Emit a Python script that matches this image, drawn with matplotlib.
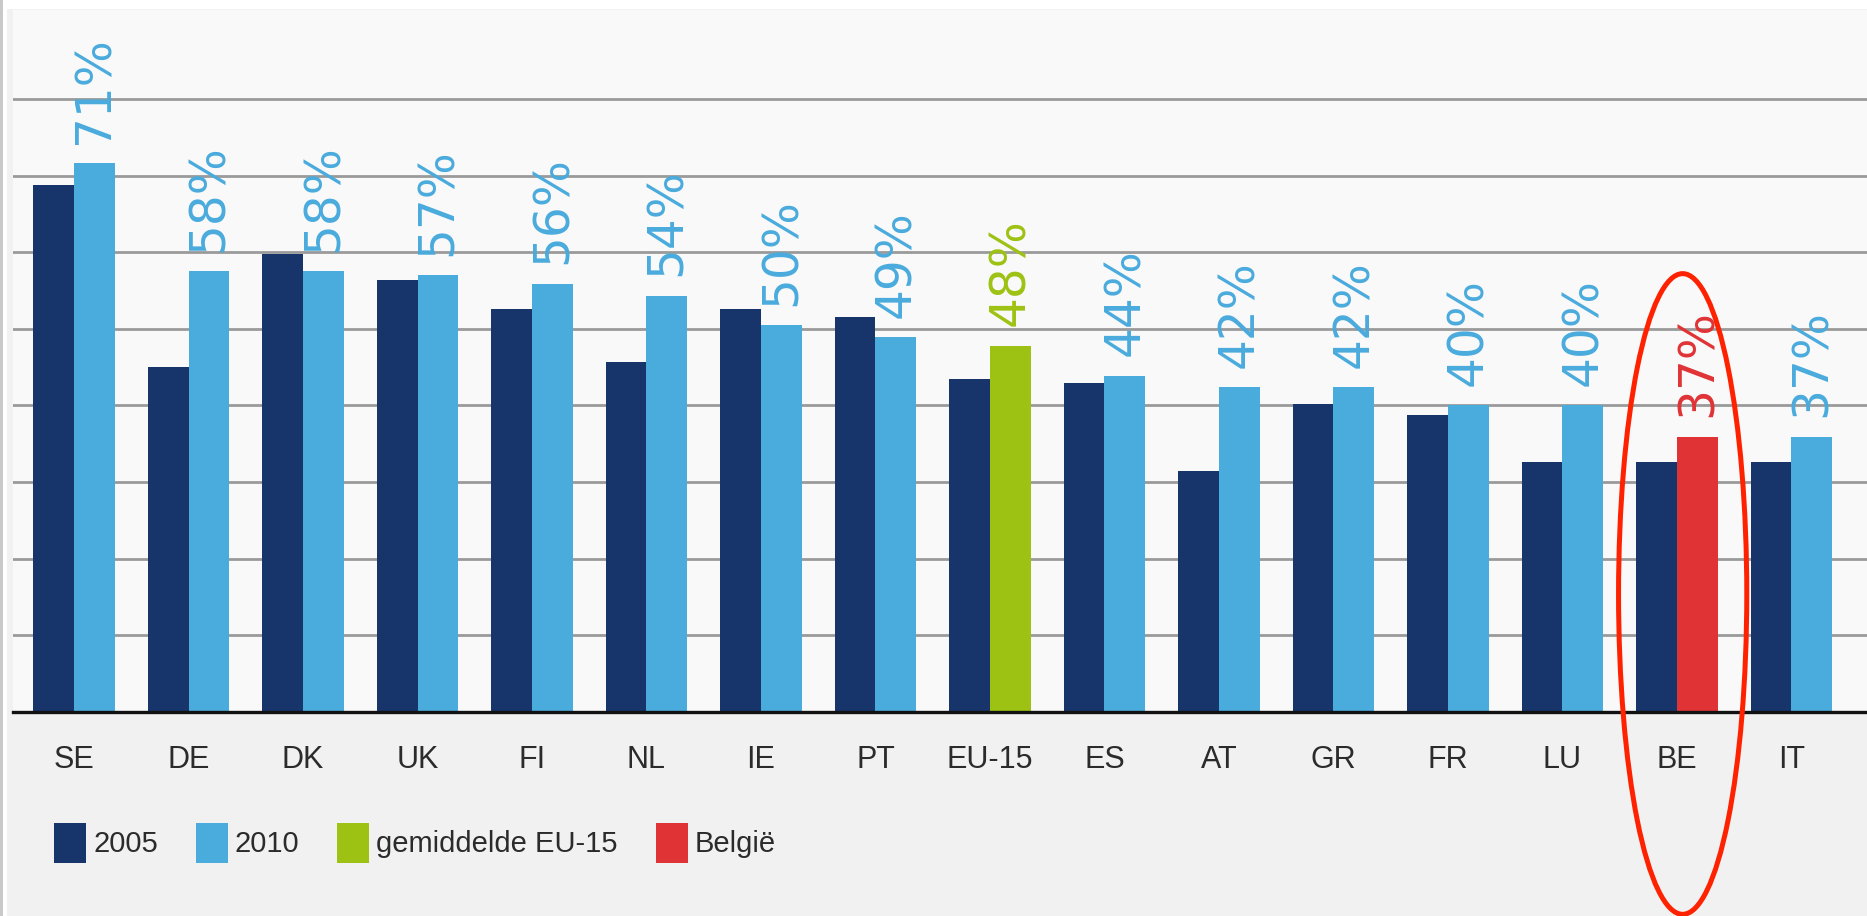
import matplotlib
matplotlib.use("Agg")
import matplotlib.pyplot as plt
from matplotlib import font_manager
from matplotlib.patches import Patch, Ellipse, Rectangle

# data
countries = ["SE", "DE", "DK", "UK", "FI", "NL", "IE", "PT", "EU-15",
             "ES", "AT", "GR", "FR", "LU", "BE", "IT"]
values_2005 = [68.8, 45.0, 59.8, 56.4, 52.6, 45.7, 52.6, 51.6, 43.5,
               42.9, 31.5, 40.2, 38.7, 32.6, 32.6, 32.6]
values_2010 = [71.6, 57.5, 57.5, 57.0, 55.9, 54.3, 50.5, 48.9, 47.8,
               43.9, 42.4, 42.4, 40.0, 40.0, 35.9, 35.9]
labels_2010 = [71, 58, 58, 57, 56, 54, 50, 49, 48, 44, 42, 42, 40, 40, 37, 37]
legend_labels = ["2005", "2010", "gemiddelde EU-15", "België"]

NAVY = "#17356b"
BLUE = "#4aabdd"
GREEN = "#9dc213"
RED = "#e03336"

names = {f.name for f in font_manager.fontManager.ttflist}
narrow = "Liberation Sans Narrow" if "Liberation Sans Narrow" in names else "Liberation Sans"

W, H = 1867, 916
fig = plt.figure(figsize=(W / 100, H / 100), dpi=100)
fig.patch.set_facecolor("#f1f1f1")

# white strip on top and grey border on the left
fig.patches.append(Rectangle((0, 1 - 9 / H), 1, 9 / H, transform=fig.transFigure,
                             facecolor="white", edgecolor="none", zorder=0))
fig.patches.append(Rectangle((0, 0), 3 / W, 1, transform=fig.transFigure,
                             facecolor="#c9c9c9", edgecolor="none", zorder=0))
fig.patches.append(Rectangle((3 / W, 0), 4 / W, 1, transform=fig.transFigure,
                             facecolor="white", edgecolor="none", zorder=0))

ax = fig.add_axes([13 / W, (H - 712) / H, (W - 13) / W, 702 / H])
ax.set_facecolor("#f9f9f9")

x = list(range(len(countries)))
bw = 0.355
colors_2010 = []
for c in countries:
    if c == "EU-15":
        colors_2010.append(GREEN)
    elif c == "BE":
        colors_2010.append(RED)
    else:
        colors_2010.append(BLUE)

ax.bar([i - bw / 2 for i in x], values_2005, width=bw, color=NAVY, zorder=3)
ax.bar([i + bw / 2 for i in x], values_2010, width=bw, color=colors_2010, zorder=3)

for i, v in enumerate(values_2010):
    ax.annotate(f"{labels_2010[i]}%", (i + bw / 2, v), xytext=(0, 14),
                textcoords="offset points", rotation=90, ha="center", va="bottom",
                fontsize=35, color=colors_2010[i], family="DejaVu Sans")

ax.set_xlim(-0.533, 15.66)
ax.set_ylim(0, 91.6)
ax.set_yticks(range(10, 90, 10))
ax.yaxis.grid(True, color="#9a9a9a", linewidth=2.0, zorder=1)
ax.set_axisbelow(True)
ax.tick_params(axis="y", left=False, labelleft=False)
ax.set_xticks(x)
ax.set_xticklabels(countries, family=narrow, fontsize=22, color="#2b2b2b")
ax.tick_params(axis="x", length=0, pad=24)
for s in ["top", "right", "left"]:
    ax.spines[s].set_visible(False)
ax.spines["bottom"].set_color("#111111")
ax.spines["bottom"].set_linewidth(2.4)
ax.spines["bottom"].set_zorder(4)

# red ellipse around Belgium
be = countries.index("BE")
ax.add_patch(Ellipse((be + 0.05, 15.4), 1.12, 83.6, fill=False, edgecolor="#ff2200",
                     linewidth=3.6, clip_on=False, zorder=6))

handles = [Patch(facecolor=NAVY), Patch(facecolor=BLUE),
           Patch(facecolor=GREEN), Patch(facecolor=RED)]
fig.legend(handles, legend_labels, loc="center left",
           bbox_to_anchor=(54 / W, 1 - 843 / H), ncol=4, frameon=False,
           prop={"family": narrow, "size": 21}, handlelength=1.1, handleheight=1.7,
           handletextpad=0.24, columnspacing=1.3, borderpad=0, borderaxespad=0,
           labelcolor="#2b2b2b")

plt.savefig("out.png", dpi=100, facecolor=fig.get_facecolor())
